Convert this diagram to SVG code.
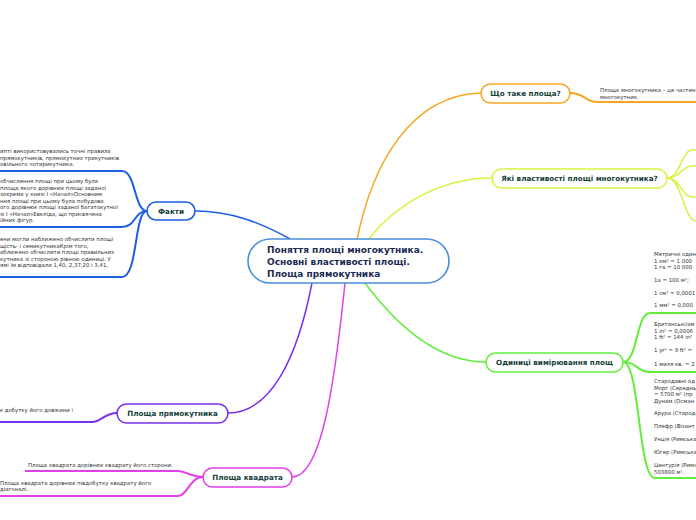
<svg xmlns="http://www.w3.org/2000/svg" width="696" height="520" viewBox="0 0 696 520">
<style>
.c{fill:none;stroke-width:1.5;stroke-linecap:round}
.u{fill:none;stroke-width:2}
.n{fill:#fff;stroke-width:1.6}
.nt{font-family:"DejaVu Sans",Verdana,sans-serif;font-weight:bold;font-size:7.2px;fill:#15403a;text-anchor:middle}
.ct{font-family:"DejaVu Sans",Verdana,sans-serif;font-weight:bold;font-size:9px;fill:#1b2b52}
.s{font-family:"DejaVu Sans",Verdana,sans-serif;font-size:5.4px;fill:#333}
.or{stroke:#f6a623}.ye{stroke:#d9f23f}.bl{stroke:#1d5ee3}.gr{stroke:#63ee3c}.pu{stroke:#7a30f0}.ma{stroke:#e23fe8}
</style>
<rect width="696" height="520" fill="#fff"/>
<g id="connectors">
<path class="c or" d="M357,240 C372,165 410,95 481,93"/>
<path class="c ye" d="M368,240 C395,205 440,178 492,178"/>
<path class="c bl" d="M292,240 C260,222 230,211 195,211"/>
<path class="c gr" d="M365,283 C400,330 440,362 486,362"/>
<path class="c pu" d="M312,283 C297,360 270,413 228,413"/>
<path class="c ma" d="M345,283 C335,380 322,477 292,477"/>
<path class="u or" d="M570,93 C585,93 585,102 597,102 L696,102"/>
<path class="c ye" d="M667,178 C680,178 682,150 692,150 L696,150"/>
<path class="c ye" d="M667,178 C680,178 682,166 692,166 L696,166"/>
<path class="c ye" d="M667,178 C680,178 682,197 692,197 L696,197"/>
<path class="c ye" d="M667,178 C682,178 684,221 696,221"/>
<path class="u bl" d="M147,211 C134,211 136,171 122,171 L0,171"/>
<path class="u bl" d="M147,211 C134,211 136,227 122,227 L0,227"/>
<path class="u bl" d="M147,211 C134,211 138,277 122,277 L0,277"/>
<path class="u gr" d="M623,362 C638,362 636,313 650,313 L696,313"/>
<path class="u gr" d="M623,362 C638,362 636,372 650,372 L696,372"/>
<path class="u gr" d="M623,362 C640,362 638,478 655,478 L696,478"/>
<path class="u pu" d="M117,413 C104,413 102,422 92,422 L0,422"/>
<path class="u ma" d="M203,477 C190,477 187,471 178,471 L25,471"/>
<path class="u ma" d="M203,477 C190,477 187,496 178,496 L0,496"/>
</g>
<g id="central">
<rect class="n" x="248" y="239" width="201" height="44" rx="22" stroke="#4a90d9"/>
<text class="ct" x="267" y="253">Поняття площі многокутника.</text>
<text class="ct" x="267" y="265">Основні властивості площі.</text>
<text class="ct" x="267" y="277">Площа прямокутника</text>
</g>
<g id="node-what">
<rect class="n or" x="481" y="84" width="89" height="19" rx="9.5"/>
<text class="nt" x="525.5" y="96">Що таке площа?</text>
<text class="s" x="600" y="92">Площа многокутника – це частин</text>
<text class="s" x="600" y="98.5">многокутник.</text>
</g>
<g id="node-props">
<rect class="n ye" x="492" y="169" width="175" height="19" rx="9.5"/>
<text class="nt" x="579.5" y="181">Які властивості площі многокутника?</text>
</g>
<g id="node-facts">
<rect class="n bl" x="147" y="202" width="48" height="18" rx="9"/>
<text class="nt" x="171" y="213.5">Факти</text>
<text class="s" x="0" y="153">ипті використовувались точні правила</text>
<text class="s" x="0" y="159.5">прямокутників, прямокутних трикутників</text>
<text class="s" x="0" y="166">овільного чотирикутника.</text>
<text class="s" x="0" y="183">обчислення площі при цьому була</text>
<text class="s" x="0" y="189.5">площа якого дорівнює площі заданої</text>
<text class="s" x="0" y="196">зокрема у книзі І «Начал»Основним</text>
<text class="s" x="0" y="202.5">ння площі при цьому була побудова</text>
<text class="s" x="0" y="209">ого дорівнює площі заданої багатокутної</text>
<text class="s" x="0" y="215.5">зі І «Начал»Евкліда, що присвячена</text>
<text class="s" x="0" y="222">ійних фігур.</text>
<text class="s" x="0" y="241">ени могли наближено обчислити площі</text>
<text class="s" x="0" y="247.5">щість- і семикутникаКрім того,</text>
<text class="s" x="0" y="254">аближено обчислити площі правильних</text>
<text class="s" x="0" y="260.5">кутника зі стороною рівною одиниці. У</text>
<text class="s" x="0" y="267">ямі їм відповідали 1,40, 2,37,20 і 3,41,</text>
</g>
<g id="node-units">
<rect class="n gr" x="486" y="353" width="137" height="19" rx="9.5"/>
<text class="nt" x="554.5" y="365">Одиниці вимірювання площ</text>
<text class="s" x="654" y="256">Метричні один</text>
<text class="s" x="654" y="262.5">1 км² = 1 000</text>
<text class="s" x="654" y="269">1 га = 10 000</text>
<text class="s" x="654" y="282">1а = 100 м²;</text>
<text class="s" x="654" y="295">1 см² = 0,0001</text>
<text class="s" x="654" y="307">1 мм² = 0,000</text>
<text class="s" x="654" y="326">Британські/ам</text>
<text class="s" x="654" y="332.5">1 in² = 0,0006</text>
<text class="s" x="654" y="339">1 ft² = 144 in²</text>
<text class="s" x="654" y="352">1 yr² = 9 ft² =</text>
<text class="s" x="654" y="366">1 миля кв. = 2</text>
<text class="s" x="654" y="383">Стародавні од</text>
<text class="s" x="654" y="389.5">Морг (Середнь</text>
<text class="s" x="654" y="396">= 5700 м² (пр</text>
<text class="s" x="654" y="402.5">Дунам (Осман</text>
<text class="s" x="654" y="415">Арура (Старод</text>
<text class="s" x="654" y="428">Плефр (Візант</text>
<text class="s" x="654" y="441">Унція (Римська</text>
<text class="s" x="654" y="454">Югер (Римська</text>
<text class="s" x="654" y="467">Центурія (Римс</text>
<text class="s" x="654" y="473.5">503800 м².</text>
</g>
<g id="node-rect">
<rect class="n pu" x="117" y="404" width="111" height="19" rx="9.5"/>
<text class="nt" x="172.5" y="416">Площа прямокутника</text>
<text class="s" x="0" y="412">є добутку його довжини і</text>
</g>
<g id="node-square">
<rect class="n ma" x="203" y="468" width="89" height="19" rx="9.5"/>
<text class="nt" x="247.5" y="480">Площа квадрата</text>
<text class="s" x="28" y="467">Площа квадрата дорівнює квадрату його сторони.</text>
<text class="s" x="0" y="484.5">Площа квадрата дорівнює півдобутку квадрату  його</text>
<text class="s" x="0" y="491">діагоналі.</text>
</g>
</svg>
